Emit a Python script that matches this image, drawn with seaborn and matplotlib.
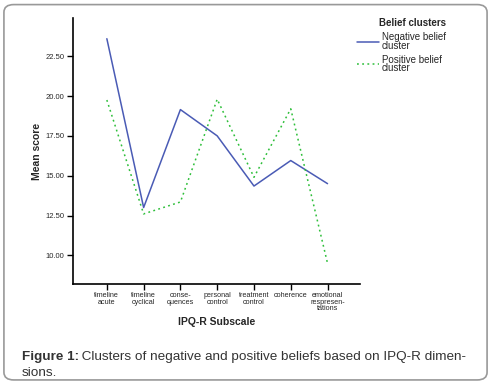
import pandas as pd
import seaborn as sns
import matplotlib.pyplot as plt
from matplotlib.patches import FancyBboxPatch

# Datos
subescalas = ["timeline\nacute", "timeline\ncyclical", "conse-\nquences", "personal\ncontrol",
              "treatment\ncontrol", "coherence", "emotional\nrespresen-\ntations"]
negativo = [23.6, 13.0, 19.15, 17.5, 14.35, 15.95, 14.5]
positivo = [19.75, 12.6, 13.35, 19.8, 14.9, 19.2, 9.5]
grupos = ["Negative belief\ncluster", "Positive belief\ncluster"]

df = pd.DataFrame({
    "Subscale": subescalas * 2,
    "score": negativo + positivo,
    "cluster": [grupos[0]] * len(subescalas) + [grupos[1]] * len(subescalas),
})

sns.set_style("white")
plt.rcParams["font.family"] = ["Liberation Sans", "DejaVu Sans"]

fig = plt.figure(figsize=(4.91, 3.83), dpi=100)
ax = fig.add_axes([0.1487, 0.2585, 0.5843, 0.6945])

sns.lineplot(data=df, x="Subscale", y="score", hue="cluster", style="cluster",
             palette=["#4a5bb5", "#2ebf3a"], dashes=["", (1.2, 2.2)],
             linewidth=1.1, sort=False, ax=ax)

ax.set_xlim(-0.92, 6.88)
ax.set_ylim(8.2, 24.9)
ax.set_yticks([10, 12.5, 15, 17.5, 20, 22.5])
ax.set_yticklabels(["10.00", "12.50", "15.00", "17.50", "20.00", "22.50"])
ax.tick_params(axis="both", length=4, width=1, direction="out", color="black", pad=2,
               bottom=True, left=True)
ax.tick_params(axis="y", labelsize=5.5)
ax.tick_params(axis="x", labelsize=5.2)
for lbl in ax.get_xticklabels():
    lbl.set_linespacing(0.85)
for s in ["top", "right"]:
    ax.spines[s].set_visible(False)
for s in ["left", "bottom"]:
    ax.spines[s].set_color("black")
    ax.spines[s].set_linewidth(1.2)

ax.set_xlabel("IPQ-R Subscale", fontsize=7.5, fontweight="bold", labelpad=4)
ax.set_ylabel("Mean score", fontsize=7.5, fontweight="bold", labelpad=3)

handles, labels = ax.get_legend_handles_labels()
ax.legend(handles, labels, title="Belief clusters", loc="upper left",
          bbox_to_anchor=(0.71, 0.975), bbox_transform=fig.transFigure,
          frameon=False, fontsize=7, title_fontsize=7, handlelength=2.2,
          handletextpad=0.3, labelspacing=0.4, alignment="right")
ax.get_legend().get_title().set_fontweight("bold")
for t in ax.get_legend().get_texts():
    t.set_linespacing(0.8)

# Pie de figura
fig.text(0.045, 0.06, "Figure 1:", fontsize=9.7, fontweight="bold", color="#333333")
fig.text(0.158, 0.06, " Clusters of negative and positive beliefs based on IPQ-R dimen-",
         fontsize=9.7, color="#333333")
fig.text(0.045, 0.018, "sions.", fontsize=9.7, color="#333333")

borde = FancyBboxPatch((0.008, 0.008), 0.984, 0.98, boxstyle="round,pad=0,rounding_size=0.02",
                       transform=fig.transFigure, facecolor="none", edgecolor="#999999",
                       linewidth=1.2)
fig.patches.append(borde)

plt.savefig("out.png", dpi=100)
plt.close()
